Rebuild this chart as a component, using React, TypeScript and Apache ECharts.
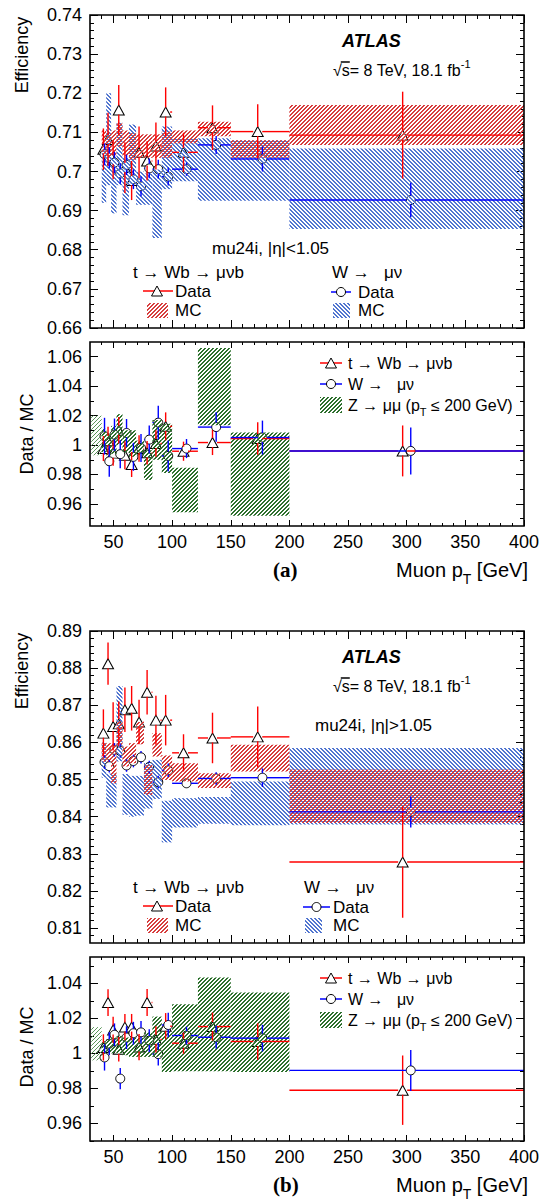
import React, { useEffect, useRef } from "react";
import * as echarts from "echarts";

// ---------------- data ----------------
const binEdges = [40, 43.8, 48, 52.6, 57.7, 63.2, 69.3, 76, 83.2, 91.2, 100, 122, 150, 200, 400];
const zLowEdges = [31, 40];

const xTickValues = [50, 100, 150, 200, 250, 300, 350, 400];
const effTicksA = [0.66, 0.67, 0.68, 0.69, 0.7, 0.71, 0.72, 0.73, 0.74];
const ratioTicksA = [0.96, 0.98, 1, 1.02, 1.04, 1.06];
const effTicksB = [0.81, 0.82, 0.83, 0.84, 0.85, 0.86, 0.87, 0.88, 0.89];
const ratioTicksB = [0.96, 0.98, 1, 1.02, 1.04];

// (a) |eta| < 1.05 : efficiency
const ttDataA = [0.7057, 0.7082, 0.703, 0.7157, 0.701, 0.6977, 0.7049, 0.7027, 0.7065, 0.7152, 0.7049, 0.7112, 0.7102, 0.7093];
const ttDataErrA = [0.0053, 0.0068, 0.005, 0.0064, 0.0065, 0.005, 0.0066, 0.005, 0.006, 0.0063, 0.005, 0.0057, 0.007, 0.0111];
const wDataA = [0.7044, 0.7035, 0.7023, 0.6995, 0.7017, 0.698, 0.6962, 0.7008, 0.7006, 0.6987, 0.7006, 0.7068, 0.7032, 0.6927];
const wDataErrA = [0.0028, 0.0027, 0.0027, 0.0026, 0.0026, 0.0025, 0.0025, 0.0025, 0.0024, 0.0023, 0.0017, 0.0023, 0.0032, 0.0044];
const ttMcLoA = [0.7045, 0.7035, 0.704, 0.7063, 0.704, 0.703, 0.7035, 0.7035, 0.7035, 0.7035, 0.7072, 0.709, 0.7035, 0.7068];
const ttMcHiA = [0.7105, 0.71, 0.7105, 0.7123, 0.7105, 0.7098, 0.7095, 0.7095, 0.7095, 0.7102, 0.7105, 0.7127, 0.708, 0.717];
const wMcLoA = [0.692, 0.6965, 0.6893, 0.6965, 0.6888, 0.6965, 0.6915, 0.6915, 0.683, 0.6955, 0.6975, 0.6925, 0.6925, 0.6853];
const wMcHiA = [0.7055, 0.72, 0.7035, 0.7125, 0.7035, 0.712, 0.7, 0.6995, 0.7005, 0.7115, 0.7085, 0.7085, 0.708, 0.7059];

// (a) ratio Data / MC
const ttRatioA = [0.9976, 1.003, 0.9945, 1.01, 0.9931, 0.9868, 0.9976, 0.9947, 1.001, 1.0127, 0.9958, 1.0017, 1.0044, 0.996];
const ttRatioErrA = [0.0085, 0.0095, 0.0085, 0.009, 0.0095, 0.0085, 0.009, 0.008, 0.009, 0.0095, 0.0065, 0.0085, 0.011, 0.0173];
const wRatioA = [1.006, 0.989, 1.007, 0.9938, 1.0082, 0.992, 0.998, 1.0037, 1.0152, 0.9926, 0.9976, 1.0122, 1.0051, 0.996];
const wRatioErrA = [0.0125, 0.0105, 0.011, 0.0095, 0.0095, 0.0095, 0.0095, 0.0095, 0.0115, 0.0105, 0.0065, 0.01, 0.0115, 0.016];
const zLoA = [0.995, 0.993, 0.994, 1.0, 0.995, 0.992, 0.993, 0.9763, 0.99, 0.981, 0.9543, 1.0135, 0.952];
const zHiA = [1.011, 1.008, 1.013, 1.021, 1.01, 1.01, 1.003, 0.9965, 1.017, 1.0145, 0.9845, 1.066, 1.0085];
const zLowBandA = [0.993, 1.02];

// (b) |eta| > 1.05 : efficiency
const ttDataB = [0.8625, 0.8812, 0.8643, 0.865, 0.8688, 0.8692, 0.8655, 0.8735, 0.866, 0.866, 0.8572, 0.8612, 0.8615, 0.8278];
const ttDataErrB = [0.0064, 0.0057, 0.0065, 0.006, 0.006, 0.006, 0.006, 0.006, 0.0066, 0.0068, 0.005, 0.0068, 0.0082, 0.015];
const wDataB = [0.8547, 0.8536, 0.858, 0.8577, 0.8538, 0.855, 0.856, 0.8534, 0.8493, 0.8525, 0.849, 0.8503, 0.8505, 0.8413];
const wDataErrB = [0.0018, 0.0017, 0.0018, 0.0018, 0.0017, 0.0017, 0.0017, 0.0017, 0.0017, 0.0018, 0.0012, 0.0017, 0.0025, 0.0042];
const ttMcLoB = [0.8548, 0.8548, 0.849, 0.8594, 0.8535, 0.8544, 0.8595, 0.8459, 0.8562, 0.8499, 0.8495, 0.8477, 0.8522, 0.8383];
const ttMcHiB = [0.8598, 0.8598, 0.8598, 0.8657, 0.8589, 0.8598, 0.8655, 0.854, 0.8625, 0.8565, 0.8544, 0.8517, 0.8594, 0.8527];
const wMcLoB = [0.8505, 0.8425, 0.8425, 0.8549, 0.8405, 0.84, 0.8403, 0.8422, 0.8448, 0.8331, 0.8371, 0.8381, 0.8377, 0.8379];
const wMcHiB = [0.86, 0.8516, 0.8516, 0.8752, 0.8515, 0.851, 0.851, 0.8545, 0.8553, 0.8443, 0.845, 0.8453, 0.8495, 0.8585];

// (b) ratio Data / MC
const ttRatioB = [1.0034, 1.029, 1.0134, 1.0024, 1.015, 1.015, 1.0036, 1.029, 1.008, 1.0155, 1.0058, 1.0153, 1.0068, 0.979];
const ttRatioErrB = [0.0075, 0.0076, 0.0075, 0.007, 0.0075, 0.0075, 0.0075, 0.0077, 0.0075, 0.0075, 0.006, 0.008, 0.0104, 0.0198];
const wRatioB = [0.9977, 1.0055, 1.0106, 0.9856, 1.009, 1.0115, 1.012, 1.0073, 0.9996, 1.0162, 1.0102, 1.0092, 1.0087, 0.9903];
const wRatioErrB = [0.0075, 0.0065, 0.0065, 0.006, 0.0065, 0.0065, 0.0065, 0.0065, 0.0065, 0.007, 0.005, 0.0065, 0.0076, 0.0117];
const zLoB = [0.999, 1.0, 1.0, 1.0, 0.999, 0.998, 0.998, 0.998, 0.998, 0.9894, 0.9898, 0.9898, 0.9894];
const zHiB = [1.007, 1.008, 1.009, 1.01, 1.009, 1.009, 1.009, 1.012, 1.021, 1.0125, 1.028, 1.0433, 1.0348];
const zLowBandB = [0.996, 1.015];

// ---------------- helpers ----------------
const FAMILY = '"Liberation Sans", Arial, Helvetica, sans-serif';
const RED = "#ff0000";
const BLUE = "#0000ff";

function range(a: number, b: number, step: number) {
  const out: number[] = [];
  const n = Math.round((b - a) / step);
  for (let i = 0; i <= n; i++) out.push(Math.round((a + i * step) * 1e6) / 1e6);
  return out;
}

function makePattern(color: string, dir: number, cover: number) {
  const c = document.createElement("canvas");
  c.width = 4;
  c.height = 4;
  const ctx = c.getContext("2d")!;
  ctx.fillStyle = color;
  for (let x = 0; x < 4; x++)
    for (let y = 0; y < 4; y++) {
      const k = dir > 0 ? (x + y) % 4 : (x - y + 8) % 4;
      if (k < cover) ctx.fillRect(x, y, 1, 1);
    }
  return { image: c.toDataURL(), repeat: "repeat", imageWidth: 4, imageHeight: 4 };
}

function buildOption() {
  const mctx = document.createElement("canvas").getContext("2d")!;
  const fontStr = (size: number, weight = "normal", style = "normal", family = FAMILY) =>
    `${style} ${weight} ${size}px ${family}`;
  const measure = (t: string, font: string) => {
    mctx.font = font;
    return mctx.measureText(t).width;
  };

  const hatchRed = makePattern("rgb(215,62,62)", 1, 2);
  const hatchBlue = makePattern("rgb(82,118,208)", -1, 2);
  const hatchGreen = makePattern("rgb(45,112,45)", 1, 2);
  const hatchGreenLight = makePattern("rgb(90,150,90)", 1, 1);

  const centers = binEdges.slice(0, -1).map((e, i) => (e + binEdges[i + 1]) / 2);
  const SHIFT = 0.0115;
  const xTri = centers.map((c) => c * (1 - SHIFT));
  const xCirc = centers.map((c) => c * (1 + SHIFT));

  const L = 90;
  const W = 434;
  const panels = [
    { top: 15, height: 313, min: 0.66, max: 0.74, yMajor: effTicksA, yMinor: range(0.662, 0.738, 0.002), xLabels: false, xMaj: 8, xMin: 4 },
    { top: 342, height: 184, min: 0.945, max: 1.07, yMajor: ratioTicksA, yMinor: range(0.95, 1.06, 0.01), xLabels: true, xMaj: 6, xMin: 3 },
    { top: 631, height: 312, min: 0.806, max: 0.89, yMajor: effTicksB, yMinor: range(0.808, 0.888, 0.002), xLabels: false, xMaj: 8, xMin: 4 },
    { top: 957, height: 184, min: 0.95, max: 1.055, yMajor: ratioTicksB, yMinor: range(0.95, 1.05, 0.01), xLabels: true, xMaj: 6, xMin: 3 },
  ];
  const xMinor = range(40, 390, 10);
  const fmt = (v: number) => String(+(+v).toFixed(3));
  const labelStyle = { color: "#000", fontSize: 18, fontFamily: FAMILY };

  const grid: any[] = [];
  const xAxis: any[] = [];
  const yAxis: any[] = [];
  panels.forEach((p, gi) => {
    grid.push({ left: L, width: W, top: p.top, height: p.height, containLabel: false, outerBoundsMode: "none", show: false });
    const xb = { type: "value", gridIndex: gi, min: 30, max: 400, axisLine: { show: false }, splitLine: { show: false } };
    const tick = (len: number, vals: number[]) => ({ show: true, inside: true, length: len, lineStyle: { color: "#000", width: 1 }, customValues: vals });
    xAxis.push(
      { ...xb, position: "bottom", axisTick: tick(p.xMaj, xTickValues), axisLabel: { show: p.xLabels, customValues: xTickValues, margin: 7, formatter: fmt, showMinLabel: true, showMaxLabel: true, ...labelStyle } },
      { ...xb, position: "bottom", axisTick: tick(p.xMin, xMinor), axisLabel: { show: false, customValues: xMinor } },
      { ...xb, position: "top", axisTick: tick(p.xMaj, xTickValues), axisLabel: { show: false, customValues: xTickValues } },
      { ...xb, position: "top", axisTick: tick(p.xMin, xMinor), axisLabel: { show: false, customValues: xMinor } }
    );
    const yb = { type: "value", gridIndex: gi, min: p.min, max: p.max, axisLine: { show: false }, splitLine: { show: false } };
    yAxis.push(
      { ...yb, position: "left", axisTick: tick(8, p.yMajor), axisLabel: { show: true, customValues: p.yMajor, margin: 8, formatter: fmt, showMinLabel: true, showMaxLabel: true, ...labelStyle } },
      { ...yb, position: "left", axisTick: tick(4, p.yMinor), axisLabel: { show: false, customValues: p.yMinor } },
      { ...yb, position: "right", axisTick: tick(8, p.yMajor), axisLabel: { show: false, customValues: p.yMajor } },
      { ...yb, position: "right", axisTick: tick(4, p.yMinor), axisLabel: { show: false, customValues: p.yMinor } }
    );
  });

  const series: any[] = [];
  const markers = (gi: number, vals: number[], xs: number[], symbol: string, size: any) => ({
    type: "scatter",
    xAxisIndex: 4 * gi,
    yAxisIndex: 4 * gi,
    data: vals.map((v, i) => [xs[i], v]),
    symbol,
    symbolSize: size,
    itemStyle: { color: "#fff", borderColor: "#000", borderWidth: 1, opacity: 1 },
    silent: true,
    z: 2,
  });
  const band = (gi: number, edges: number[], lo: number[], hi: number[], fill: any) => ({
    type: "custom",
    xAxisIndex: 4 * gi,
    yAxisIndex: 4 * gi,
    data: lo.map((l, i) => [edges[i], edges[i + 1], l, hi[i]]),
    encode: { x: [0, 1], y: [2, 3] },
    silent: true,
    z: 3,
    renderItem: (_p: any, api: any) => {
      const a = api.coord([api.value(0), api.value(3)]);
      const b = api.coord([api.value(1), api.value(2)]);
      return { type: "rect", shape: { x: a[0], y: a[1], width: b[0] - a[0], height: b[1] - a[1] }, style: { fill } };
    },
  });
  const errors = (gi: number, vals: number[], errs: number[], xs: number[], color: string) => ({
    type: "custom",
    xAxisIndex: 4 * gi,
    yAxisIndex: 4 * gi,
    data: vals.map((v, i) => [xs[i], v, binEdges[i], binEdges[i + 1], errs[i]]),
    encode: { x: [0, 2, 3], y: [1] },
    silent: true,
    z: 10,
    renderItem: (_p: any, api: any) => {
      const x = api.value(0), y = api.value(1), xl = api.value(2), xh = api.value(3), e = api.value(4);
      const p = api.coord([x, y]);
      const pl = api.coord([xl, y]);
      const ph = api.coord([xh, y]);
      const pt = api.coord([x, y + e]);
      const pb = api.coord([x, y - e]);
      const g = 4.5;
      const children: any[] = [];
      const seg = (x1: number, y1: number, x2: number, y2: number) =>
        children.push({ type: "line", z2: 50, shape: { x1, y1, x2, y2 }, style: { stroke: color, lineWidth: 1.4 } });
      if (p[0] - g > pl[0]) seg(pl[0], p[1], p[0] - g, p[1]);
      if (ph[0] > p[0] + g) seg(p[0] + g, p[1], ph[0], p[1]);
      if (p[1] - g > pt[1]) seg(p[0], pt[1], p[0], p[1] - g);
      if (pb[1] > p[1] + g) seg(p[0], p[1] + g, p[0], pb[1]);
      return { type: "group", children };
    },
  });

  // order: markers -> hatched bands (tint the markers) -> error bars on top
  const addPanel = (gi: number, tt: number[], ttE: number[], w: number[], wE: number[], bands: any[]) => {
    series.push(markers(gi, tt, xTri, "triangle", [11, 10]));
    series.push(markers(gi, w, xCirc, "circle", 9));
    bands.forEach((b) => series.push(b));
    series.push(errors(gi, tt, ttE, xTri, RED));
    series.push(errors(gi, w, wE, xCirc, BLUE));
  };

  addPanel(0, ttDataA, ttDataErrA, wDataA, wDataErrA, [
    band(0, binEdges, wMcLoA, wMcHiA, hatchBlue),
    band(0, binEdges, ttMcLoA, ttMcHiA, hatchRed),
  ]);
  addPanel(1, ttRatioA, ttRatioErrA, wRatioA, wRatioErrA, [
    band(1, binEdges, zLoA, zHiA, hatchGreen),
    band(1, zLowEdges, [zLowBandA[0]], [zLowBandA[1]], hatchGreenLight),
  ]);
  addPanel(2, ttDataB, ttDataErrB, wDataB, wDataErrB, [
    band(2, binEdges, wMcLoB, wMcHiB, hatchBlue),
    band(2, binEdges, ttMcLoB, ttMcHiB, hatchRed),
  ]);
  addPanel(3, ttRatioB, ttRatioErrB, wRatioB, wRatioErrB, [
    band(3, binEdges, zLoB, zHiB, hatchGreen),
    band(3, zLowEdges, [zLowBandB[0]], [zLowBandB[1]], hatchGreenLight),
  ]);

  // ---------------- graphics: frames, texts, legends ----------------
  const gfx: any[] = [];
  panels.forEach((p) => {
    gfx.push({ type: "rect", z: 100, shape: { x: L, y: p.top, width: W, height: p.height }, style: { fill: "none", stroke: "#000", lineWidth: 1.6 } });
  });

  const text = (x: number, y: number, t: string, font: string, align = "left", rotation = 0) => ({
    type: "text",
    x,
    y,
    z: 120,
    rotation,
    style: { text: t, font, fill: "#000", align, verticalAlign: "middle", textAlign: align, textVerticalAlign: "middle" },
  });
  const seq = (x: number, y: number, parts: { t: string; size: number; dy?: number; weight?: string; style?: string }[], align = "left") => {
    const fonts = parts.map((p) => fontStr(p.size, p.weight, p.style));
    const widths = parts.map((p, i) => measure(p.t, fonts[i]));
    let cx = align === "right" ? x - widths.reduce((a, b) => a + b, 0) : x;
    parts.forEach((p, i) => {
      gfx.push(text(cx, y + (p.dy || 0), p.t, fonts[i]));
      cx += widths[i];
    });
  };
  const lineEl = (x1: number, y1: number, x2: number, y2: number, color: string) => ({
    type: "line",
    z: 110,
    shape: { x1, y1, x2, y2 },
    style: { stroke: color, lineWidth: 1.5 },
  });
  const triEl = (cx: number, cy: number) => ({
    type: "polygon",
    z: 111,
    shape: { points: [[cx, cy - 5], [cx + 5.5, cy + 5], [cx - 5.5, cy + 5]] },
    style: { fill: "#fff", stroke: "#000", lineWidth: 1 },
  });
  const circEl = (cx: number, cy: number) => ({
    type: "circle",
    z: 111,
    shape: { cx, cy, r: 4.5 },
    style: { fill: "#fff", stroke: "#000", lineWidth: 1 },
  });
  const boxEl = (x: number, y: number, w: number, h: number, fill: any) => ({
    type: "rect",
    z: 110,
    shape: { x, y, width: w, height: h },
    style: { fill },
  });

  const f16 = fontStr(16);
  const f17 = fontStr(17);
  const f18 = fontStr(18);

  // axis titles
  gfx.push(text(22, 55, "Efficiency", f18, "center", Math.PI / 2));
  gfx.push(text(27, 434, "Data / MC", f18, "center", Math.PI / 2));
  gfx.push(text(22, 671, "Efficiency", f18, "center", Math.PI / 2));
  gfx.push(text(27, 1047, "Data / MC", f18, "center", Math.PI / 2));

  // ATLAS labels
  const atlas = (y: number) => {
    gfx.push(text(342, y, "ATLAS", fontStr(18, "bold", "italic")));
    const y2 = y + 29;
    const wRad = measure("√", f16);
    const wS = measure("s", f16);
    seq(333, y2, [
      { t: "√s= 8 TeV, 18.1 fb", size: 16 },
      { t: "-1", size: 11, dy: -6 },
    ]);
    gfx.push(lineEl(333 + wRad - 1, y2 - 8, 333 + wRad + wS, y2 - 8, "#000"));
  };
  atlas(41);
  atlas(657);

  gfx.push(text(212, 248, "mu24i, |η|<1.05", f17));
  gfx.push(text(315, 725, "mu24i, |η|>1.05", f17));

  // efficiency legends
  const effLegend = (y0: number, rx: number, rLineW: number, rBoxX: number, rTextX: number) => {
    gfx.push(text(133, y0, "t → Wb → μνb", f17));
    gfx.push(lineEl(143, y0 + 19, 173, y0 + 19, RED));
    gfx.push(triEl(157, y0 + 19));
    gfx.push(text(175, y0 + 19, "Data", f17));
    gfx.push(boxEl(147, y0 + 31, 21, 15, hatchRed));
    gfx.push(text(175, y0 + 38, "MC", f17));

    gfx.push(text(rx, y0, "W →   μν", f17));
    gfx.push(lineEl(rx - 1, y0 + 20, rx - 1 + rLineW, y0 + 20, BLUE));
    gfx.push(circEl(rx - 1 + rLineW / 2, y0 + 20));
    gfx.push(text(rTextX, y0 + 20, "Data", f17));
    gfx.push(boxEl(rBoxX, y0 + 31, 17, 15, hatchBlue));
    gfx.push(text(rTextX, y0 + 38, "MC", f17));
  };
  effLegend(272, 332, 20, 333, 358);
  effLegend(887, 304, 27, 305, 333);

  // ratio legends
  const ratioLegend = (y0: number) => {
    gfx.push(lineEl(320, y0, 342, y0, RED));
    gfx.push(triEl(331, y0));
    gfx.push(text(348, y0, "t → Wb → μνb", f16));
    gfx.push(lineEl(320, y0 + 21, 342, y0 + 21, BLUE));
    gfx.push(circEl(331, y0 + 21));
    gfx.push(text(348, y0 + 21, "W →   μν", f16));
    gfx.push(boxEl(320, y0 + 34, 22, 16, hatchGreen));
    seq(348, y0 + 42, [
      { t: "Z → μμ (p", size: 16 },
      { t: "T", size: 11, dy: 7 },
      { t: " ≤ 200 GeV)", size: 16 },
    ]);
  };
  ratioLegend(363);
  ratioLegend(978);

  // x-axis titles and panel tags
  const xTitle = (y: number, tag: string) => {
    seq(528, y, [
      { t: "Muon p", size: 20 },
      { t: "T", size: 14, dy: 9 },
      { t: " [GeV]", size: 20 },
    ], "right");
    gfx.push(text(273, y, tag, fontStr(21, "bold", "normal", '"Liberation Serif", "Times New Roman", serif')));
  };
  xTitle(570, "(a)");
  xTitle(1185, "(b)");

  return {
    animation: false,
    backgroundColor: "#fff",
    grid,
    xAxis,
    yAxis,
    series,
    graphic: { elements: gfx },
  };
}

export default function App() {
  const ref = useRef<HTMLDivElement>(null);
  useEffect(() => {
    document.body.style.margin = "0";
    const chart = echarts.init(ref.current!, undefined, { renderer: "svg", width: 539, height: 1203 });
    chart.setOption(buildOption() as any);
    return () => chart.dispose();
  }, []);
  return <div ref={ref} style={{ width: 539, height: 1203 }} />;
}
